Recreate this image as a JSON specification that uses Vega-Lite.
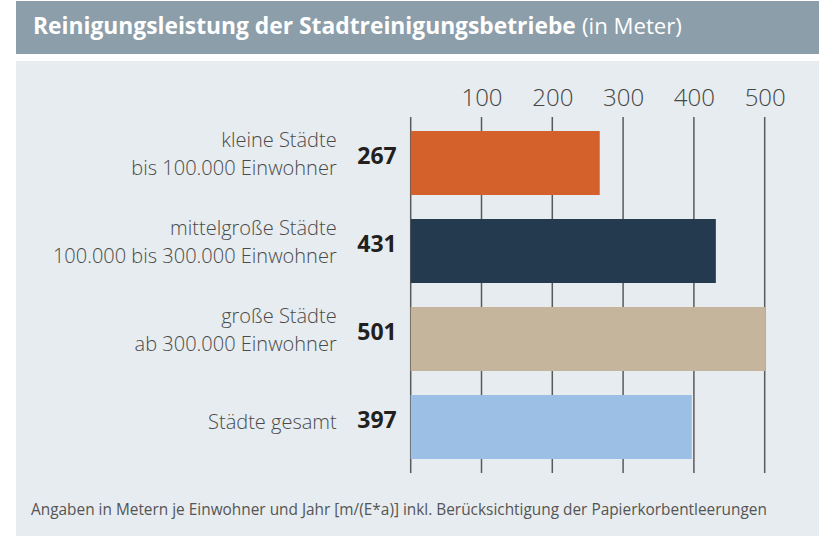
{
  "$schema": "https://vega.github.io/schema/vega-lite/v6.json",
  "background": "#ffffff",
  "padding": {"left": 16, "top": 1, "right": 10, "bottom": 0},
  "config": {"view": {"stroke": null}, "font": "Open Sans"},
  "datasets": {
    "rows": [
      {"key": "klein", "label": "kleine Städte\nbis 100.000 Einwohner", "value": 267},
      {"key": "mittel", "label": "mittelgroße Städte\n100.000 bis 300.000 Einwohner", "value": 431},
      {"key": "gross", "label": "große Städte\nab 300.000 Einwohner", "value": 501},
      {"key": "gesamt", "label": "Städte gesamt", "value": 397}
    ],
    "ticks": [{"v": 0}, {"v": 100}, {"v": 200}, {"v": 300}, {"v": 400}, {"v": 500}]
  },
  "spacing": 7,
  "vconcat": [
    {
      "spacing": 0,
      "hconcat": [
        {
          "width": 562,
          "height": 53,
          "view": {"fill": "#8c9eaa", "stroke": null},
          "title": {
            "text": "Reinigungsleistung der Stadtreinigungsbetriebe",
            "anchor": "start",
            "orient": "bottom",
            "offset": -20.5,
            "baseline": "alphabetic",
            "dx": 17,
            "font": "Open Sans",
            "fontSize": 22.8,
            "fontWeight": "bold",
            "color": "#ffffff"
          },
          "data": {"values": [{}]},
          "mark": {"type": "rect", "color": "#8c9eaa"},
          "encoding": {}
        },
        {
          "width": 241,
          "height": 53,
          "view": {"fill": "#8c9eaa", "stroke": null},
          "title": {
            "text": "(in Meter)",
            "anchor": "start",
            "orient": "bottom",
            "offset": -20.5,
            "baseline": "alphabetic",
            "dx": 4,
            "font": "Open Sans",
            "fontSize": 22.2,
            "fontWeight": "normal",
            "color": "#ffffff"
          },
          "data": {"values": [{}]},
          "mark": {"type": "rect", "color": "#8c9eaa"},
          "encoding": {}
        }
      ]
    },
    {
      "width": 803,
      "height": 475,
      "view": {"fill": "#e6ecef", "stroke": null},
      "title": {
        "text": "Angaben in Metern je Einwohner und Jahr [m/(E*a)] inkl. Berücksichtigung der Papierkorbentleerungen",
        "anchor": "start",
        "orient": "bottom",
        "offset": -21,
        "baseline": "alphabetic",
        "dx": 15,
        "font": "Open Sans",
        "fontSize": 15.4,
        "fontWeight": "normal",
        "color": "#555555"
      },
      "layer": [
        {
          "data": {"name": "ticks"},
          "mark": {"type": "rule", "color": "#5a5a5a", "strokeWidth": 1.5},
          "encoding": {
            "x": {"field": "v", "type": "quantitative",
              "scale": {"domain": [-557.5, 576.7], "nice": false, "zero": false},
              "axis": {"orient": "top", "values": [100, 200, 300, 400, 500], "domain": false, "ticks": false, "tickSize": 0, "grid": false,
                "labelFontSize": 24, "labelFont": "Open Sans", "labelFontWeight": 300, "labelColor": "#454545",
                "labelBaseline": "alphabetic", "labelPadding": 0, "offset": -44, "title": null, "labelFlush": false, "labelOverlap": false}},
            "y": {"datum": "klein", "type": "nominal", "bandPosition": -0.219,
              "scale": {"domain": ["klein", "mittel", "gross", "gesamt"], "paddingInner": 0.2727, "paddingOuter": 0.835, "align": 0.476},
              "axis": null},
            "y2": {"datum": "gesamt", "bandPosition": 1.219}
          }
        },
        {
          "data": {"name": "rows"},
          "mark": {"type": "bar"},
          "encoding": {
            "x": {"field": "value", "type": "quantitative"},
            "y": {"field": "key", "type": "nominal"},
            "color": {"field": "key", "type": "nominal",
              "scale": {"domain": ["klein", "mittel", "gross", "gesamt"], "range": ["#d4612b", "#243a4f", "#c4b59c", "#9bbfe5"]},
              "legend": null}
          }
        },
        {
          "data": {"name": "rows"},
          "mark": {"type": "text", "align": "right", "baseline": "alphabetic", "dx": -14, "dy": 1, "fontSize": 23, "fontWeight": "bold", "font": "Open Sans", "color": "#231f20"},
          "encoding": {
            "x": {"datum": 0, "type": "quantitative"},
            "y": {"field": "key", "type": "nominal", "bandPosition": 0.5},
            "text": {"field": "value", "type": "quantitative"}
          }
        },
        {
          "data": {"name": "rows"},
          "transform": [{"filter": "indexof(datum.label, '\\n') >= 0"}],
          "mark": {"type": "text", "align": "right", "baseline": "alphabetic", "dx": -74, "dy": -15.5, "fontSize": 20, "fontWeight": 300, "font": "Open Sans", "color": "#4a4a4a", "lineBreak": "\n", "lineHeight": 27.5},
          "encoding": {
            "x": {"datum": 0, "type": "quantitative"},
            "y": {"field": "key", "type": "nominal", "bandPosition": 0.5},
            "text": {"field": "label", "type": "nominal"}
          }
        },
        {
          "data": {"name": "rows"},
          "transform": [{"filter": "indexof(datum.label, '\\n') < 0"}],
          "mark": {"type": "text", "align": "right", "baseline": "alphabetic", "dx": -74, "dy": 2.3, "fontSize": 20, "fontWeight": 300, "font": "Open Sans", "color": "#4a4a4a"},
          "encoding": {
            "x": {"datum": 0, "type": "quantitative"},
            "y": {"field": "key", "type": "nominal", "bandPosition": 0.5},
            "text": {"field": "label", "type": "nominal"}
          }
        }
      ]
    }
  ]
}
